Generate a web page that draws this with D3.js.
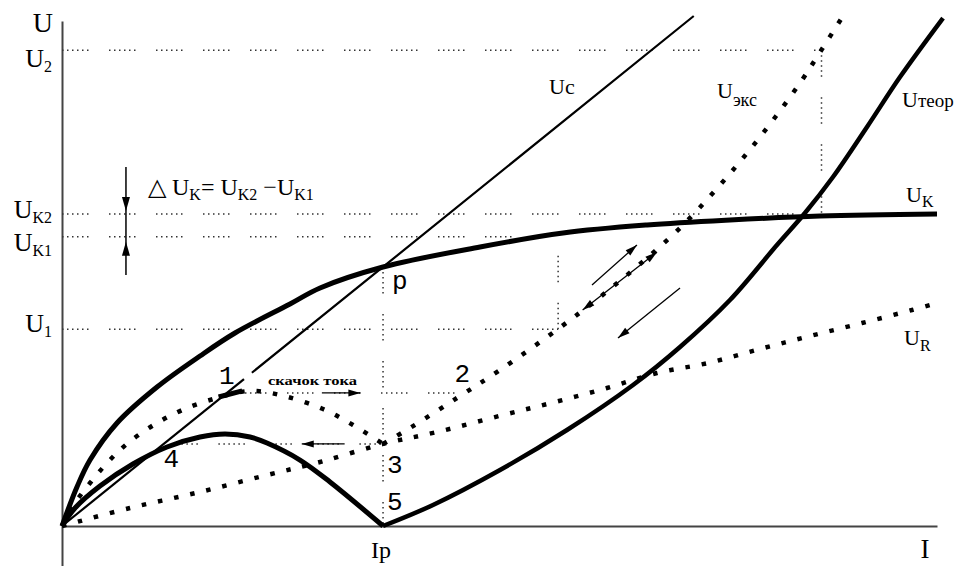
<!DOCTYPE html>
<html>
<head>
<meta charset="utf-8">
<script src="https://cdn.jsdelivr.net/npm/d3@7"></script>
<style>
  html, body { margin: 0; padding: 0; background: #fff; }
  svg { display: block; }
</style>
</head>
<body>
<svg id="chart" width="969" height="566"></svg>
<script>
// ---- Characteristic levels (relative units: I 0..100, U 0..100) ----
const I_p = 36.69;            // current at point p
const U_p = 50.8;             // voltage at point p
const I_1 = 56.7;             // current at U1 on the experimental curve
const I_2 = 86.8;             // current at U2 on the experimental curve
const levelSubs   = ["2", "K2", "K1", "1"];
const levelValues = [93.3, 61.2, 56.7, 38.6];   // U2, UK2, UK1, U1
const U_jump = 26.1;          // level of the current jump (1 -> 2)
const I_jumpStart = 20.34, I_jumpEnd = 46.0;
const U_4 = 16.1;             // level of point 4 / point 3
const I_4 = 12.5;

// ---- Curves ----
const ukCurve = [[0,0],[1.71,7.65],[3.2,12.94],[6.29,20.2],[10.86,27.25],[15.77,33.33],
  [19.77,37.84],[26.06,43.53],[29.49,46.67],[36.69,50.78],[47.77,54.71],[57.26,57.45],
  [66.86,59.02],[76.34,60.0],[86.63,60.78],[100,61.18]];
const ucLower = [[0,0],[20.8,28.8]];
const ucUpper = [[21.7,30.05],[36.69,50.8],[72.2,100]];
const uTheor = [[36.69,0],[42.4,4.12],[50.06,10.98],[57.71,18.82],[65.26,27.65],[70.63,35.1],
  [76.34,44.31],[81.71,55.1],[84.91,61.37],[88.11,68.43],[92.0,78.24],[95.77,88.04],[100.69,99.6]];
const fourCurve = [[0,0],[1.49,3.53],[4.34,7.84],[8.11,12.16],[12.0,15.49],[15.77,17.45],
  [18.63,18.04],[21.49,17.45],[23.43,16.27],[27.2,12.94],[30.63,8.63],[36.69,0]];
const humpCurve = [[0,0],[1.49,4.51],[3.2,8.43],[5.26,12.55],[7.54,16.27],[10.86,20.2],
  [14.29,23.14],[18.06,25.29],[20.34,26.27],[22.29,26.47],[25.83,25.29],[29.83,22.94],
  [33.26,19.8],[36.69,16.1]];
const uExp = [[36.69,16.1],[39.77,19.22],[45.14,25.1],[50.06,30.59],[56.69,38.63],[61.49,44.9],
  [66.06,51.37],[70.63,58.43],[75.2,66.86],[79.77,76.27],[84.34,86.86],[86.86,93.53],[89.26,100]];
const uR = [[0,0],[7.77,3.53],[15.77,6.67],[23.43,10.0],[29.49,12.55],[36.69,16.1],[42.86,18.43],
  [50.4,21.76],[56.34,24.31],[62.29,27.06],[68.0,30.0],[73.83,31.96],[79.77,34.71],[85.49,37.25],
  [91.43,39.8],[97.14,42.35],[100,43.73]];

// ---- Guide lines ----
const guideH = [                       // [U, I from, I to]
  [levelValues[0], 0, I_2],
  [levelValues[1], 0, 84.9],
  [levelValues[2], 0, 54],
  [levelValues[3], 0, I_1],
  [U_jump, I_jumpStart, I_jumpEnd],
  [U_4, I_4, I_p]
];
const guideV = [                       // [I, U from, U to]
  [I_p, U_p, 0],
  [I_1, levelValues[3], 57.3],
  [I_2, levelValues[0], 60.8]
];

// ---- Arrows ----
const arrows = [                       // from -> to, head at "to"
  { from: [29.7, U_jump], to: [34.1, U_jump] },
  { from: [32.3, U_4],    to: [27.4, U_4] },
  { from: [60.57, 47.25], to: [65.71, 55.1] },
  { from: [70.63, 46.67], to: [63.54, 36.86] },
  { from: [59.5, 42.35],  to: [68.0, 53.7], both: true }
];
const deltaArrowI = 7.31;
const deltaArrowSpan = [70.4, 49.2];

// ---- Scales ----
const svg = d3.select("#chart");
const x = d3.scaleLinear().domain([0, 100]).range([62, 937]);
const y = d3.scaleLinear().domain([0, 100]).range([526, 16]);
const yAxisScale = d3.scaleLinear().domain([-8, 99]).range([y(-8), y(99)]);

const smooth = d3.line().x(d => x(d[0])).y(d => y(d[1])).curve(d3.curveCatmullRom.alpha(0.5));
const straight = d3.line().x(d => x(d[0])).y(d => y(d[1]));

const guideDash = "1.5 3.5 1.5 3.5 1.5 3.5 1.5 3.5 1.5 3.5 1.5 20.5";
const bigDots = "4.5 12";

// ---- Axes ----
svg.append("g").attr("transform", `translate(0,${y(0)})`)
  .call(d3.axisBottom(x).tickValues([]).tickSizeOuter(0));
svg.append("g").attr("transform", `translate(${x(0)},0)`)
  .call(d3.axisLeft(yAxisScale).tickValues([]).tickSizeOuter(0));
svg.selectAll(".domain").attr("stroke", "#444").attr("stroke-width", 2);

// ---- Dotted guides ----
const guides = svg.append("g").attr("fill", "none").attr("stroke", "#333")
  .attr("stroke-width", 1.5).attr("stroke-dasharray", guideDash);
guideH.forEach(g => guides.append("path").attr("d", straight([[g[1], g[0]], [g[2], g[0]]])));
guideV.forEach(g => guides.append("path").attr("d", straight([[g[0], g[1]], [g[0], g[2]]])));

// ---- Curves ----
function curve(data, width, dash, gen) {
  svg.append("path").attr("d", (gen || smooth)(data)).attr("fill", "none")
    .attr("stroke", "#000").attr("stroke-width", width)
    .attr("stroke-dasharray", dash || null).attr("stroke-linejoin", "round");
}
curve(uR, 4.5, bigDots);
curve(humpCurve, 4.5, bigDots);
curve(uExp, 4.5, bigDots);
curve(ucLower, 2.2, null, straight);
curve(ucUpper, 2.2, null, straight);
curve(fourCurve, 5);
curve(uTheor, 4.5);
curve(ukCurve, 5);

// thick mark at point 1
svg.append("path").attr("d", straight([[17.9, 25.3], [20.6, 26.5]]))
  .attr("stroke", "#000").attr("stroke-width", 5).attr("fill", "none");

// ---- Arrows ----
function head(tipPx, fromPx, len, half) {
  const dx = tipPx[0] - fromPx[0], dy = tipPx[1] - fromPx[1];
  const L = Math.hypot(dx, dy), ux = dx / L, uy = dy / L;
  const bx = tipPx[0] - ux * len, by = tipPx[1] - uy * len;
  svg.append("path")
    .attr("d", `M${tipPx[0]},${tipPx[1]}L${bx - uy * half},${by + ux * half}L${bx + uy * half},${by - ux * half}Z`)
    .attr("fill", "#000");
}
arrows.forEach(a => {
  const f = [x(a.from[0]), y(a.from[1])], t = [x(a.to[0]), y(a.to[1])];
  svg.append("line").attr("x1", f[0]).attr("y1", f[1]).attr("x2", t[0]).attr("y2", t[1])
    .attr("stroke", "#000").attr("stroke-width", 1.3);
  head(t, f, 12, 3.5);
  if (a.both) head(f, t, 12, 3.5);
});
// ΔUK arrow pair
const dax = x(deltaArrowI);
svg.append("line").attr("x1", dax).attr("x2", dax)
  .attr("y1", y(deltaArrowSpan[0])).attr("y2", y(deltaArrowSpan[1]))
  .attr("stroke", "#000").attr("stroke-width", 1.5);
head([dax, y(levelValues[1]) - 3], [dax, y(deltaArrowSpan[0])], 14, 4);
head([dax, y(levelValues[2]) + 5], [dax, y(deltaArrowSpan[1])], 14, 4);

// ---- Text ----
const serif = "'Liberation Serif', 'Times New Roman', serif";
const mono = "'Liberation Mono', 'Courier New', monospace";

function subLabel(px, py, main, sub, size, subSize, subDy, anchor) {
  const t = svg.append("text").attr("x", px).attr("y", py)
    .attr("font-family", serif).attr("font-size", size).attr("fill", "#000")
    .attr("text-anchor", anchor || "start");
  t.append("tspan").text(main);
  t.append("tspan").attr("font-size", subSize).attr("dy", subDy).text(sub);
  return t;
}

// axis titles
svg.append("text").attr("x", 53).attr("y", 32).attr("text-anchor", "end")
  .attr("font-family", serif).attr("font-size", 28).text("U");
svg.append("text").attr("x", 925).attr("y", 558).attr("text-anchor", "middle")
  .attr("font-family", serif).attr("font-size", 27).text("I");
svg.append("text").attr("x", x(I_p) - 2).attr("y", 558).attr("text-anchor", "middle")
  .attr("font-family", serif).attr("font-size", 24).text("Ip");

// level labels on the U axis
const levelLabelDy = [17, 4, 14, 3];
levelValues.forEach((v, i) => {
  subLabel(52, y(v) + levelLabelDy[i], "U", levelSubs[i], 26, 16, 5, "end");
});

// curve names
subLabel(549, 94, "U", "с", 22, 22, 0);
subLabel(717, 98, "U", "экс", 22, 18, 8);
subLabel(902, 107, "U", "теор", 22, 19, 0);
subLabel(906, 202, "U", "K", 22, 16, 5);
subLabel(904, 345, "U", "R", 22, 16, 6);

// ΔUK formula
const f = svg.append("text").attr("x", 148).attr("y", 195)
  .attr("font-family", serif).attr("font-size", 24).attr("fill", "#000");
f.append("tspan").text("△ U");
f.append("tspan").attr("font-size", 16).attr("dy", 5).text("K");
f.append("tspan").attr("dy", -5).text("= U");
f.append("tspan").attr("font-size", 16).attr("dy", 5).text("K2");
f.append("tspan").attr("dy", -5).text(" −U");
f.append("tspan").attr("font-size", 16).attr("dy", 5).text("K1");

// point labels
const pointLabels = [
  { t: "1", at: [I_jumpStart, U_jump], dx: -21, dy: -9 },
  { t: "2", at: [I_jumpEnd, U_jump], dx: -10, dy: -11 },
  { t: "3", at: [I_p, U_4], dx: 4, dy: 29 },
  { t: "4", at: [I_4, U_4], dx: -8, dy: 23 },
  { t: "5", at: [I_p, 0], dx: 4, dy: -16 },
  { t: "p", at: [I_p, U_p], dx: 9, dy: 22 }
];
pointLabels.forEach(p => {
  svg.append("text").attr("x", x(p.at[0]) + p.dx).attr("y", y(p.at[1]) + p.dy)
    .attr("font-family", mono).attr("font-size", 26).text(p.t);
});

// current jump caption
svg.append("text").attr("x", 268).attr("y", 385)
  .attr("font-family", serif).attr("font-size", 13).attr("font-weight", "bold")
  .attr("textLength", 89).attr("lengthAdjust", "spacingAndGlyphs").text("скачок тока");
</script>
</body>
</html>
